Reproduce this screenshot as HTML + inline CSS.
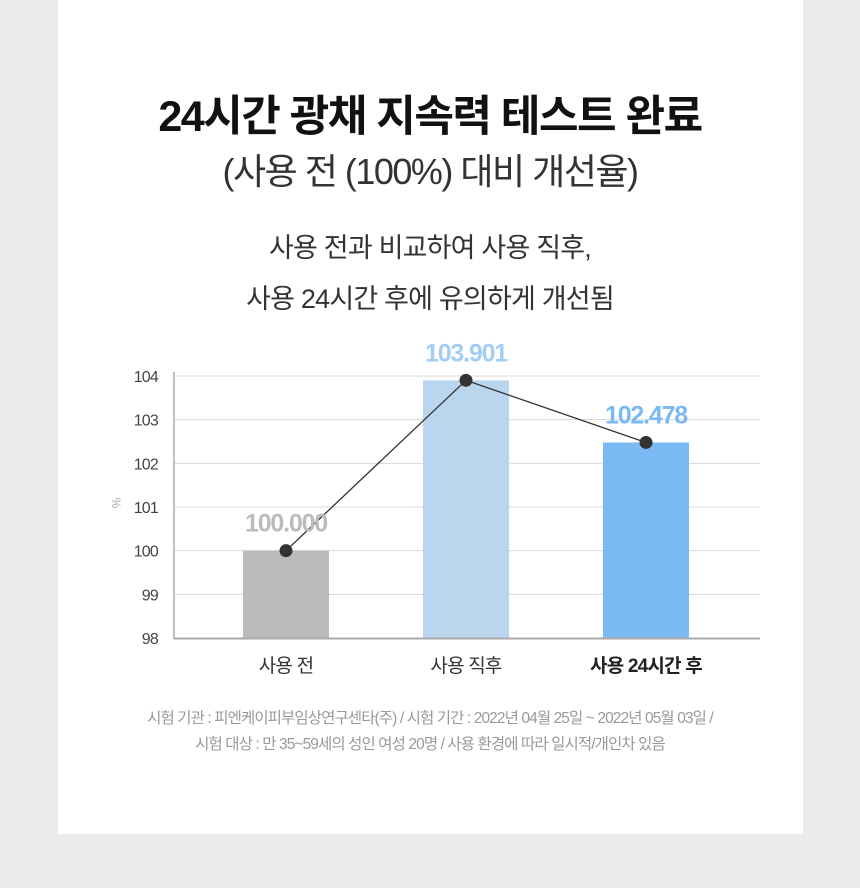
<!DOCTYPE html>
<html><head><meta charset="utf-8">
<style>
body{margin:0;width:860px;height:888px;background:#ebebeb;font-family:"Liberation Sans","Noto Sans CJK KR",sans-serif;position:relative;overflow:hidden}
#card{position:absolute;left:58px;top:0;width:745px;height:834px;background:#fff}
.t{position:absolute;left:0;width:860px;text-align:center;color:#222;white-space:nowrap}
</style></head><body>
<div id="card"></div>
<div class="t" style="top:82px;font-size:43px;font-weight:bold;color:#111;letter-spacing:-1.5px">24시간 광채 지속력 테스트 완료</div>
<div class="t" style="top:143px;font-size:36px;color:#333;letter-spacing:-1.5px">(사용 전 (100%) 대비 개선율)</div>
<div class="t" style="top:226px;font-size:27px;color:#333;letter-spacing:-0.8px">사용 전과 비교하여 사용 직후,</div>
<div class="t" style="top:277px;font-size:27px;color:#333;letter-spacing:-0.8px">사용 24시간 후에 유의하게 개선됨</div>
<svg id="chart" width="860" height="888" style="position:absolute;left:0;top:0" font-family="Liberation Sans, Noto Sans CJK KR, sans-serif"></svg>
<div class="t" style="top:706px;font-size:15.5px;color:#999;letter-spacing:-0.9px">시험 기관 : 피엔케이피부임상연구센타(주) / 시험 기간 : 2022년 04월 25일 ~ 2022년 05월 03일 /</div>
<div class="t" style="top:732px;font-size:15.5px;color:#999;letter-spacing:-0.9px">시험 대상 : 만 35~59세의 성인 여성 20명 / 사용 환경에 따라 일시적/개인차 있음</div>
<script>
const categories=["사용 전","사용 직후","사용 24시간 후"];
const values=[100.000,103.901,102.478];
const valueLabels=["100.000","103.901","102.478"];
const yTicks=[98,99,100,101,102,103,104];
const NS="http://www.w3.org/2000/svg";
const svg=document.getElementById('chart');
const x0=174,x1=760,yMin=98,yMax=104,py0=638,py1=376;
const y=v=>py0-(v-yMin)/(yMax-yMin)*(py0-py1);
const xc=i=>286+i*180;
const barColors=["#bbbbbb","#bad6ef","#7bb9f5"];
const labelColors=["#bbbbbb","#a3cdf5","#7bb9f5"];
function el(t,a){const e=document.createElementNS(NS,t);for(const k in a)e.setAttribute(k,a[k]);svg.appendChild(e);return e;}
yTicks.forEach(t=>{
 const g=el('line',{x1:x0,x2:x1,y1:y(t),y2:y(t),stroke:'#d8d8d8','stroke-width':1});
 
 
 const l=el('text',{x:158,y:y(t)+6,'text-anchor':'end','font-size':16,fill:'#444','letter-spacing':-0.8});l.textContent=t;
 
 
});
const yt=el('text',{x:112,y:503,'text-anchor':'middle','font-size':12,fill:'#aaa',transform:'rotate(90 112 503)'});yt.textContent='%';


values.forEach((v,i)=>{
 const b=el('rect',{x:xc(i)-43,y:y(v),width:86,height:py0-y(v),fill:barColors[i]});
 
 
});
const ax=el('line',{x1:x0,x2:x0,y1:372,y2:639,stroke:'#aaa','stroke-width':1.5});


const bx=el('line',{x1:x0,x2:x1,y1:638.5,y2:638.5,stroke:'#aaa','stroke-width':2});


const pl=el('polyline',{points:values.map((v,i)=>xc(i)+','+y(v)).join(' '),fill:'none',stroke:'#333','stroke-width':1.3});


values.forEach((v,i)=>{
 const c=el('circle',{cx:xc(i),cy:y(v),r:6.5,fill:'#333'});
 
 
 const t=el('text',{x:xc(i),y:y(v)-19,'text-anchor':'middle','font-size':25,'font-weight':'bold',fill:labelColors[i],'letter-spacing':-1.2});
 t.textContent=valueLabels[i];
 
 
 const c2=el('text',{x:xc(i),y:672,'text-anchor':'middle','font-size':19,fill:i==2?'#222':'#333','font-weight':i==2?'bold':'normal','letter-spacing':-0.8});
 c2.textContent=categories[i];
 
 
});
</script>
</body></html>
